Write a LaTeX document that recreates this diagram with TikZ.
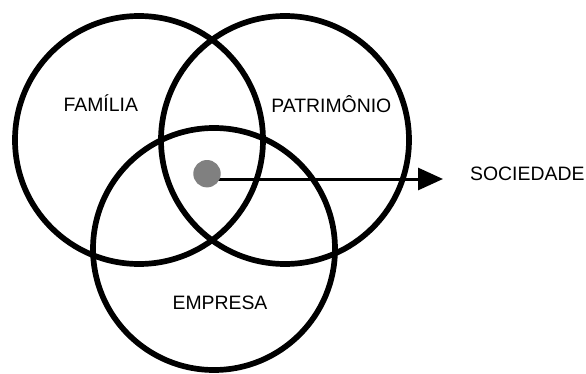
\documentclass[tikz,border=0pt]{standalone}
\usepackage{fontspec}
\setmainfont{Liberation Sans}
\usetikzlibrary{arrows.meta}
\tikzset{
  ring/.style={draw=black,line width=5.7pt},
  label/.style={font=\fontsize{19.4}{22}\selectfont,inner sep=0pt,anchor=base},
  hub/.style={circle,fill=gray,draw=none,minimum size=27.4pt,inner sep=0pt}
}
\begin{document}
\begin{tikzpicture}[x=1pt,y=1pt]
\useasboundingbox[fill=white](0,0)rectangle(586,373);
%circles
\draw[ring](139,233)circle(124);
\draw[ring](285,233)circle(124);
\draw[ring](214,124)circle(121);
%labels
\node[label](familia)at(100.8,261.3){FAMÍLIA};
\node[label](patrimonio)at(331.3,261){PATRIMÔNIO};
\node[label](empresa)at(220,63.7){EMPRESA};
\node[label,anchor=base west](sociedade)at(470,192.3){SOCIEDADE};
%arrow to the society
\coordinate(start)at(207,194);
\coordinate(tip)at(443,194);
\draw[line width=3pt,-{Triangle[length=25pt,width=22pt]}](start)--(tip);
\node[hub](centro)at(207,199.3){};
\end{tikzpicture}
\end{document}
